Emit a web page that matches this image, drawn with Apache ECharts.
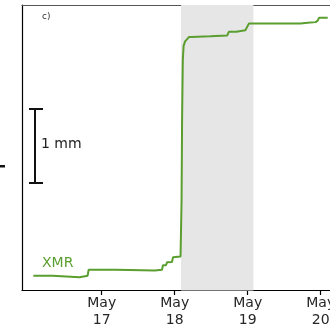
<!DOCTYPE html>
<html>
<head>
<meta charset="utf-8">
<script src="https://cdn.jsdelivr.net/npm/echarts@6/dist/echarts.min.js"></script>
<style>
html,body{margin:0;padding:0;background:#fff;}
#c{width:330px;height:336px;}
</style>
</head>
<body>
<div id="c"></div>
<script>
// time in days of May (fractional), displacement in mm
var timeDays = [16.064,16.326,16.339,16.697,16.711,16.807,16.821,17.193,17.206,17.729,17.826,17.839,17.881,17.894,17.963,17.977,18.080,18.094,18.101,18.111,18.122,18.142,18.170,18.197,18.225,18.486,18.720,18.741,18.844,18.968,18.995,19.016,19.725,19.821,19.931,19.959,19.979,20.096];
var displacement = [0.00,0.00,-0.02,-0.02,0.00,0.00,0.08,0.08,0.07,0.07,0.08,0.14,0.14,0.18,0.185,0.25,0.26,1.02,2.10,2.91,3.10,3.16,3.19,3.22,3.22,3.23,3.24,3.29,3.29,3.31,3.33,3.40,3.40,3.41,3.42,3.44,3.48,3.48];
var tickDays = [17,18,19,20];
var tickLabels = ['May\n17','May\n18','May\n19','May\n20'];
var shadeStart = 18.087, shadeEnd = 19.078;
var seriesName = 'XMR';
var panelLabel = 'c)';
var scaleLabel = '1 mm';

var green = '#5a9e2f';
var data = timeDays.map(function(t,i){return [t, displacement[i]];});

var chart = echarts.init(document.getElementById('c'), null, {renderer:'canvas'});
chart.setOption({
  animation:false,
  backgroundColor:'#fff',
  grid:{left:22, top:5, right:-12.6, bottom:45.5, containLabel:false, outerBoundsMode:'none'},
  xAxis:[{
    type:'value', min:15.908, max:20.3,
    axisLine:{show:true, onZero:false, lineStyle:{color:'#000', width:1.2}},
    axisTick:{show:true, customValues:tickDays, length:4.5, lineStyle:{color:'#000', width:1.2}},
    axisLabel:{show:true, customValues:tickDays, margin:5, color:'#262626', fontFamily:'DejaVu Sans', fontSize:14, lineHeight:16.5, hideOverlap:false,
      formatter:function(v){var i=tickDays.indexOf(Math.round(v)); return i>=0?tickLabels[i]:'';}},
    splitLine:{show:false}
  },{
    type:'value', position:'top', min:15.908, max:20.3,
    axisLine:{show:true, onZero:false, lineStyle:{color:'#555', width:1.2}},
    axisTick:{show:false}, axisLabel:{show:false}, splitLine:{show:false}
  }],
  yAxis:{
    type:'value', min:-0.2, max:3.651,
    axisLine:{show:true, onZero:false, lineStyle:{color:'#000', width:1.2}},
    axisTick:{show:false}, axisLabel:{show:false}, splitLine:{show:false}
  },
  series:[{
    type:'line', name:seriesName, data:data, xAxisIndex:0,
    symbol:'none', smooth:false,
    lineStyle:{color:green, width:2},
    markArea:{silent:true, itemStyle:{color:'#e6e6e6'}, data:[[{xAxis:shadeStart},{xAxis:shadeEnd}]]},
    z:3
  }],
  graphic:[
    {type:'text', left:42, top:12, style:{text:panelLabel, fontFamily:'DejaVu Sans', fontSize:9, fill:'#333'}},
    {type:'text', left:42, top:256, style:{text:seriesName, fontFamily:'DejaVu Sans', fontSize:14, fill:green}},
    {type:'line', shape:{x1:35, y1:109, x2:35, y2:183}, style:{stroke:'#111', lineWidth:2}},
    {type:'line', shape:{x1:29, y1:109, x2:43, y2:109}, style:{stroke:'#111', lineWidth:2}},
    {type:'line', shape:{x1:29, y1:183, x2:43, y2:183}, style:{stroke:'#111', lineWidth:2}},
    {type:'text', left:41, top:137, style:{text:scaleLabel, fontFamily:'DejaVu Sans', fontSize:14, fill:'#222'}},
    {type:'rect', shape:{x:0, y:165, width:5, height:2.5}, style:{fill:'#111'}}
  ]
});
</script>
</body>
</html>
